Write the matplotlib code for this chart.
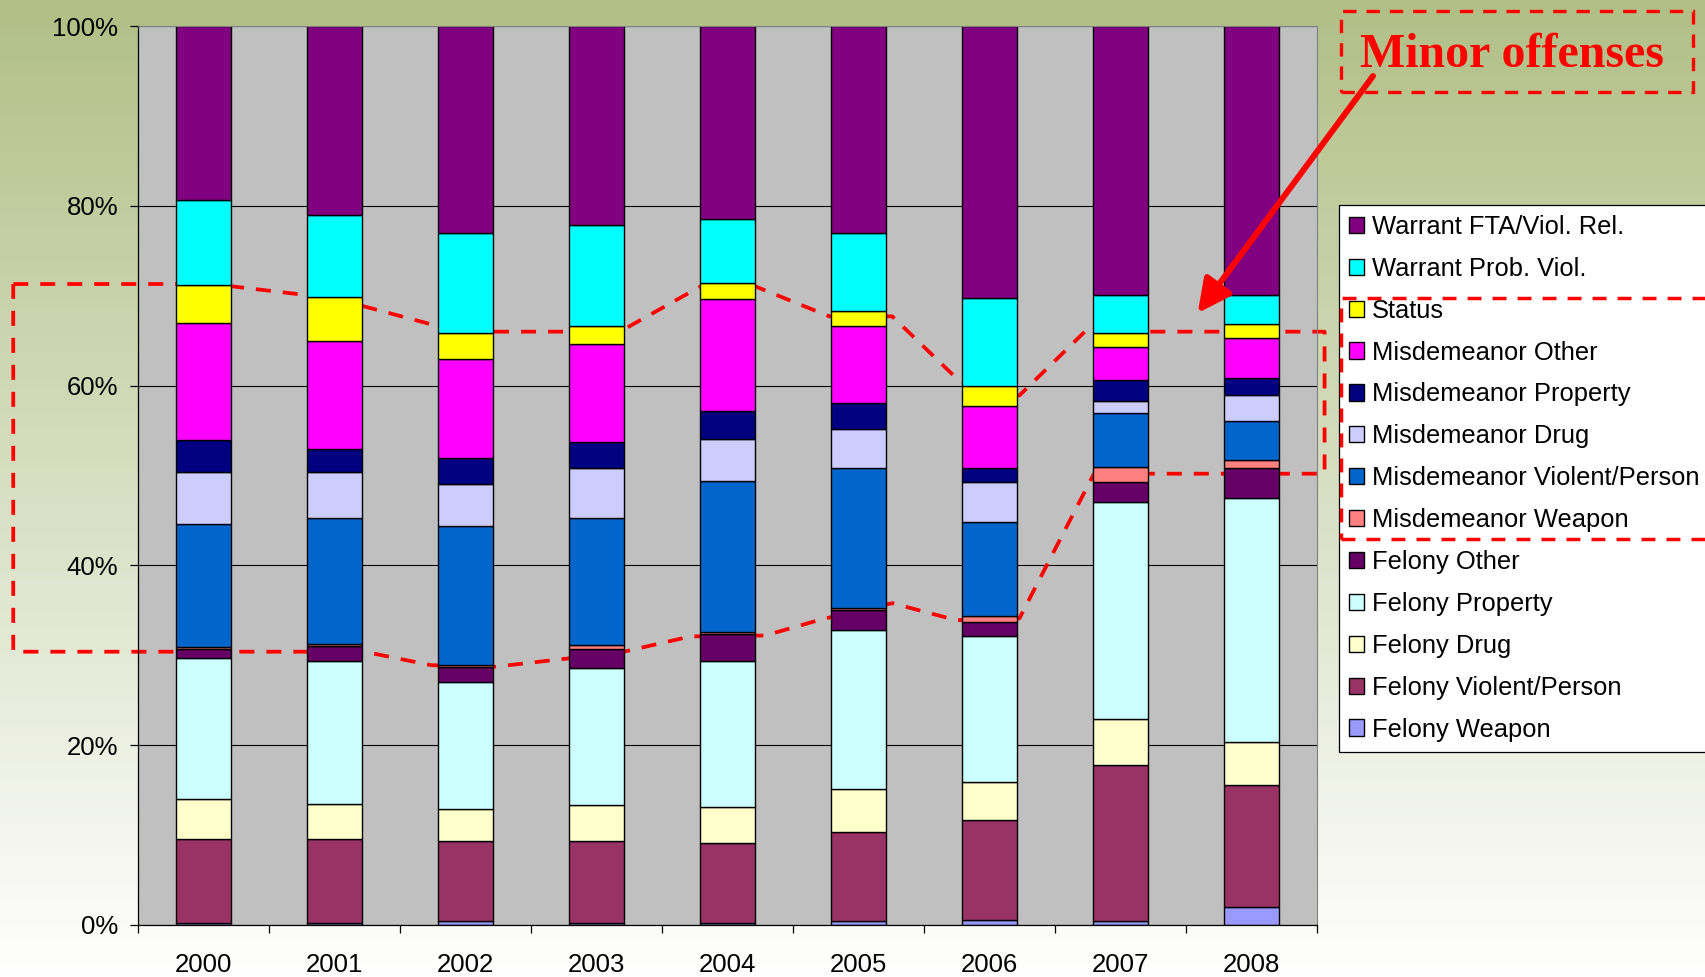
import numpy as np
import matplotlib
matplotlib.use("Agg")
import matplotlib.pyplot as plt
from matplotlib.patches import Rectangle, FancyArrowPatch
from matplotlib.ticker import FuncFormatter
from matplotlib.colors import to_rgb

W, H = 1706, 977

years = ["2000", "2001", "2002", "2003", "2004", "2005", "2006", "2007", "2008"]

# percent shares (bottom of stack first)
felony_weapon = [0.2, 0.2, 0.5, 0.2, 0.2, 0.5, 0.6, 0.4, 2.0]
felony_violent = [9.4, 9.4, 8.8, 9.1, 8.9, 9.9, 11.1, 17.4, 13.6]
felony_drug = [4.4, 3.9, 3.6, 4.0, 4.0, 4.7, 4.2, 5.1, 4.8]
felony_property = [15.7, 15.9, 14.1, 15.3, 16.3, 17.7, 16.2, 24.1, 27.1]
felony_other = [1.0, 1.6, 1.7, 2.1, 3.0, 2.2, 1.6, 2.3, 3.3]
misd_weapon = [0.2, 0.3, 0.2, 0.4, 0.2, 0.3, 0.7, 1.7, 0.9]
misd_violent = [13.7, 14.0, 15.5, 14.2, 16.8, 15.5, 10.4, 6.0, 4.4]
misd_drug = [5.8, 5.1, 4.7, 5.5, 4.7, 4.4, 4.5, 1.3, 2.9]
misd_property = [3.6, 2.6, 2.8, 2.9, 3.1, 2.9, 1.5, 2.3, 1.8]
misd_other = [13.0, 12.0, 11.1, 10.9, 12.4, 8.5, 6.9, 3.7, 4.5]
status = [4.2, 4.9, 2.9, 2.0, 1.8, 1.7, 2.2, 1.6, 1.5]
warrant_prob = [9.5, 9.1, 11.1, 11.3, 7.1, 8.7, 9.8, 4.2, 3.3]
warrant_fta = [19.3, 21.0, 23.0, 22.1, 21.5, 23.0, 30.3, 29.9, 29.9]

series = [
    ("Felony Weapon", felony_weapon, "#9999FF"),
    ("Felony Violent/Person", felony_violent, "#993366"),
    ("Felony Drug", felony_drug, "#FFFFCC"),
    ("Felony Property", felony_property, "#CCFFFF"),
    ("Felony Other", felony_other, "#660066"),
    ("Misdemeanor Weapon", misd_weapon, "#FF8080"),
    ("Misdemeanor Violent/Person", misd_violent, "#0066CC"),
    ("Misdemeanor Drug", misd_drug, "#CCCCFF"),
    ("Misdemeanor Property", misd_property, "#000080"),
    ("Misdemeanor Other", misd_other, "#FF00FF"),
    ("Status", status, "#FFFF00"),
    ("Warrant Prob. Viol.", warrant_prob, "#00FFFF"),
    ("Warrant FTA/Viol. Rel.", warrant_fta, "#800080"),
]

# outline of the "minor offenses" region, in (category, percent)
region_x = [-1.45, 0.07, 1.0, 1.95, 3.18, 3.83, 4.17, 4.78, 5.26, 5.78, 6.23, 6.73,
            8.56, 8.56, 6.8, 6.23, 5.75, 5.26, 4.72, 4.29, 3.72, 3.18, 2.21, 1.74,
            1.23, -1.45, -1.45]
region_y = [71.3, 71.3, 69.7, 66.0, 66.0, 71.3, 71.3, 67.7, 67.7, 60.4, 58.9, 66.0,
            66.0, 50.2, 50.2, 34.1, 33.9, 35.8, 34.0, 32.2, 32.1, 30.3, 28.7, 28.9,
            30.4, 30.4, 71.3]

plt.rcParams["font.family"] = ["Liberation Sans", "DejaVu Sans"]

fig = plt.figure(figsize=(W / 100, H / 100), dpi=100)

# gradient background
bg = fig.add_axes([0, 0, 1, 1], zorder=-5)
top = np.array(to_rgb("#B1BF86"))
bot = np.array(to_rgb("#FFFFFF"))
t = np.linspace(0, 1, 256)[:, None]
grad = top[None, :] * (1 - t) + bot[None, :] * t
bg.imshow(grad[:, None, :], aspect="auto", extent=[0, 1, 0, 1])
bg.set_axis_off()


def fx(px):
    return px / W


def fy(py):
    return 1 - py / H


ax = fig.add_axes([fx(137.7), fy(925), (1316.7 - 137.7) / W, (925 - 26) / H])
ax.set_facecolor("#C0C0C0")

x = np.arange(len(years))
total = np.sum([s[1] for s in series], axis=0)
bottom = np.zeros(len(years))
handles = []
for name, vals, col in series:
    v = np.array(vals) / total * 100
    b = ax.bar(x, v, 0.42, bottom=bottom, color=col, edgecolor="black",
               linewidth=1.0, label=name, zorder=2)
    handles.append(b)
    bottom += v

ax.set_xlim(-0.5, len(years) - 0.5)
ax.set_ylim(0, 100)
ax.set_yticks([0, 20, 40, 60, 80, 100])
ax.yaxis.set_major_formatter(FuncFormatter(lambda v, p: "%d%%" % v))
ax.set_xticks(x)
ax.set_xticklabels(years)
ax.set_xticks(np.arange(-0.5, len(years)), minor=True)
ax.tick_params(axis="x", which="major", length=0, pad=20, labelsize=18.5)
ax.tick_params(axis="x", which="minor", length=6, width=0.9, direction="out")
ax.tick_params(axis="y", length=6, width=0.9, direction="out", pad=8, labelsize=18.5)
ax.set_axisbelow(True)
ax.yaxis.grid(True, color="black", linewidth=0.8)
ax.spines["top"].set_color("#808080")
ax.spines["right"].set_color("#808080")
for sp in ["left", "bottom"]:
    ax.spines[sp].set_color("black")
    ax.spines[sp].set_linewidth(0.9)

# dashed outline behind the bars
ax.plot(region_x, region_y, color="red", linewidth=2.7, linestyle=(0, (4, 3.2)),
        clip_on=False, zorder=1)

leg = ax.legend(handles[::-1], [s[0] for s in series][::-1],
                loc="upper left", bbox_to_anchor=(fx(1338.7), fy(204.7)),
                bbox_transform=fig.transFigure, fontsize=18.4, frameon=True,
                fancybox=False, framealpha=1, edgecolor="black",
                handlelength=0.6, handleheight=0.6, handletextpad=0.31,
                labelspacing=0.70, borderpad=0.4, borderaxespad=0)
leg.get_frame().set_linewidth(0.9)

# annotations on top
fig.add_artist(Rectangle((fx(1340.7), fy(539)), fx(1720 - 1340.7), (539 - 297.7) / H,
                         transform=fig.transFigure, fill=False, edgecolor="red",
                         linewidth=2.5, linestyle=(0, (4, 3.2)), zorder=6))
fig.add_artist(Rectangle((fx(1340.7), fy(91.7)), fx(1692.7 - 1340.7), (91.7 - 10.7) / H,
                         transform=fig.transFigure, fill=False, edgecolor="red",
                         linewidth=2.4, linestyle=(0, (4, 3)), zorder=6))
fig.text(fx(1360), fy(66.7), "Minor offenses", color="red", fontsize=34.5,
         fontweight="bold", family=["Liberation Serif", "DejaVu Serif"],
         ha="left", va="baseline", zorder=7)
fig.add_artist(FancyArrowPatch((fx(1373), fy(76)), (fx(1197.7), fy(313)),
                               transform=fig.transFigure, arrowstyle="-|>",
                               mutation_scale=50, color="red", linewidth=4.3,
                               shrinkA=0, shrinkB=0, zorder=7))

fig.savefig("out.png", dpi=100)
